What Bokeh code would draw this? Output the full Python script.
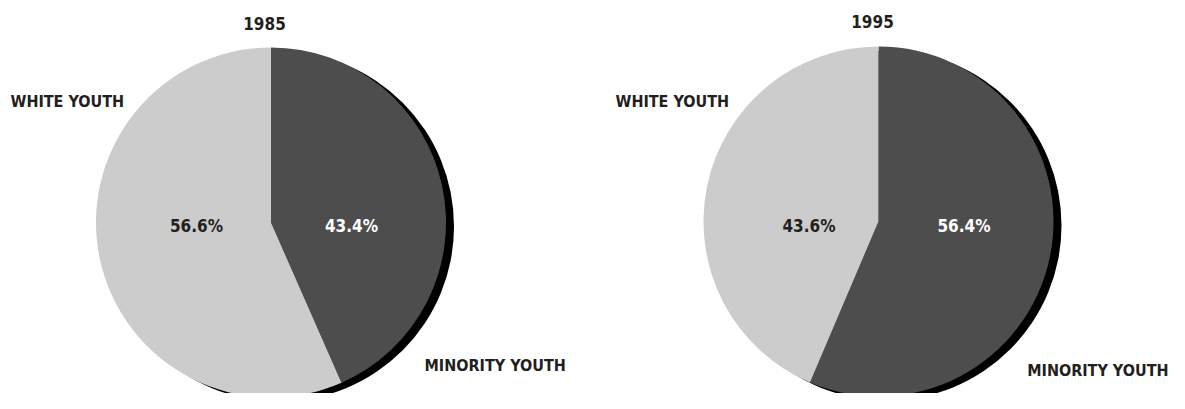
import math
from bokeh.plotting import figure
from bokeh.models import Range1d, ColumnDataSource
from bokeh.core.properties import value
from bokeh.embed import file_html
from bokeh.resources import INLINE

# ---- data ----
years = ["1985", "1995"]
categories = ["MINORITY YOUTH", "WHITE YOUTH"]
minority_share = [43.4, 56.4]
white_share = [56.6, 43.6]
colors = ["#4d4d4d", "#cccccc"]

# ---- layout (pixel frame, y measured from top) ----
W, H = 1169, 393
centers_x = [270.5, 878.0]
centers_y = [222.0, 221.0]
radius = 175
shadow_dx, shadow_dy = 8, 4

def Y(screen_y):
    return H - screen_y

p = figure(width=W, height=H, output_backend="svg", toolbar_location=None,
           x_range=Range1d(0, W), y_range=Range1d(0, H),
           min_border=0, outline_line_color=None)
p.axis.visible = False
p.grid.visible = False
p.background_fill_color = "white"

FONT = value("DejaVu Sans Condensed")
TXT = "#231f20"

title_pos = [(264, 23), (872, 21)]
white_lbl = [(10, 101), (615, 101)]
min_lbl = [(424, 365), (1168, 370)]
min_align = ["left", "right"]
white_pct_pos = [(196, 225), (808.5, 225.5)]
min_pct_pos = [(351, 225), (963.5, 225.5)]

for i, yr in enumerate(years):
    cx, cy = centers_x[i], Y(centers_y[i])
    # shadow
    p.circle(x=[cx + shadow_dx], y=[cy - shadow_dy], radius=radius,
             fill_color="black", line_color=None)
    fm = minority_share[i] / 100.0
    fw = white_share[i] / 100.0
    top = math.pi / 2
    src = ColumnDataSource(dict(
        x=[cx, cx], y=[cy, cy],
        start=[top - 2 * math.pi * fm, top],
        end=[top, top + 2 * math.pi * fw],
        color=colors,
    ))
    p.wedge(x="x", y="y", radius=radius, start_angle="start", end_angle="end",
            fill_color="color", line_color=None, source=src)

    p.text(x=[title_pos[i][0]], y=[Y(title_pos[i][1])], text=[yr],
           text_font=FONT, text_font_style="bold", text_font_size="17px",
           text_color=TXT, text_align="center", text_baseline="middle")
    p.text(x=[white_lbl[i][0]], y=[Y(white_lbl[i][1])], text=[categories[1]],
           text_font=FONT, text_font_style="bold", text_font_size="16px",
           text_color=TXT, text_align="left", text_baseline="middle")
    p.text(x=[min_lbl[i][0]], y=[Y(min_lbl[i][1])], text=[categories[0]],
           text_font=FONT, text_font_style="bold", text_font_size="16px",
           text_color=TXT, text_align=min_align[i], text_baseline="middle")
    p.text(x=[white_pct_pos[i][0]], y=[Y(white_pct_pos[i][1])],
           text=[f"{white_share[i]:.1f}%"],
           text_font=FONT, text_font_style="bold", text_font_size="17px",
           text_color=TXT, text_align="center", text_baseline="middle")
    p.text(x=[min_pct_pos[i][0]], y=[Y(min_pct_pos[i][1])],
           text=[f"{minority_share[i]:.1f}%"],
           text_font=FONT, text_font_style="bold", text_font_size="17px",
           text_color="white", text_align="center", text_baseline="middle")

open("out.html", "w").write(file_html(p, INLINE))
